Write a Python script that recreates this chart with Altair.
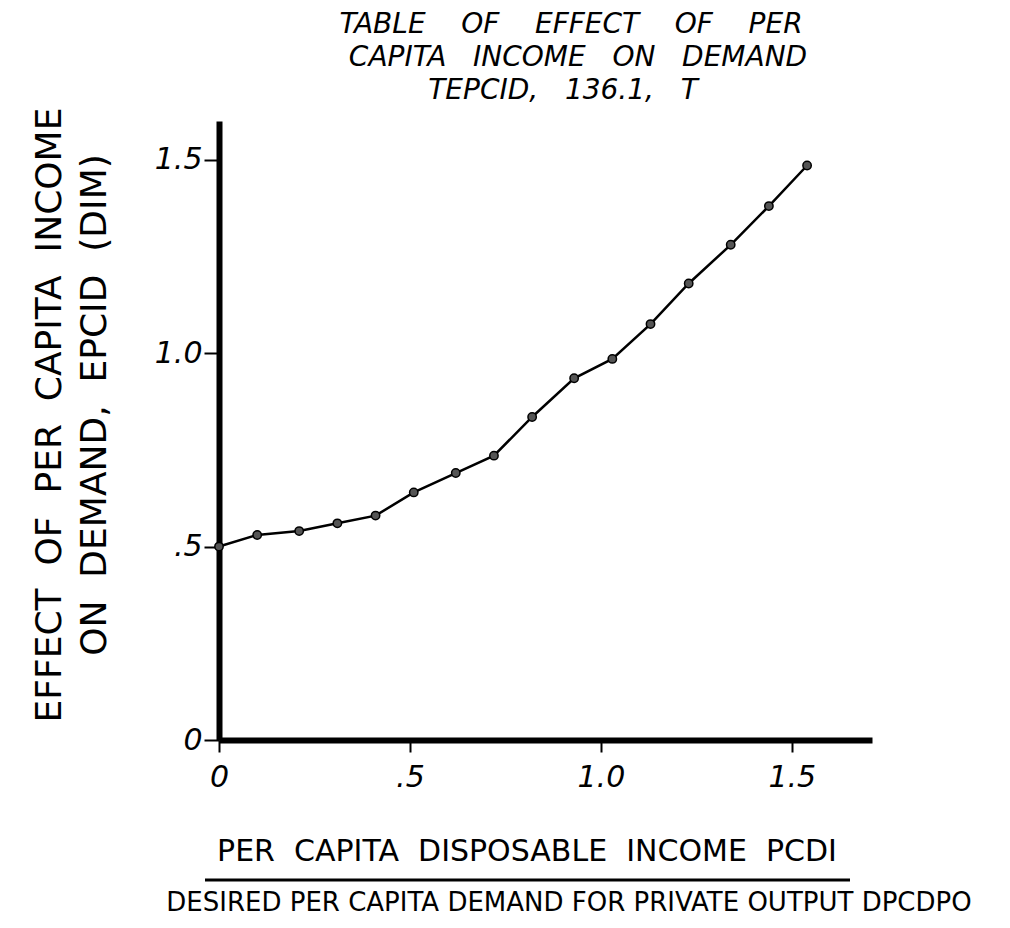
import altair as alt
import pandas as pd

# Values
pcdi = [0.0, 0.10, 0.21, 0.31, 0.41, 0.51, 0.62, 0.72, 0.82, 0.93, 1.03, 1.13, 1.23, 1.34, 1.44, 1.54]
epcid = [0.50, 0.53, 0.54, 0.56, 0.58, 0.64, 0.69, 0.735, 0.835, 0.935, 0.985, 1.075, 1.18, 1.28, 1.38, 1.485]

x_ticks = [0, 0.5, 1.0, 1.5]
y_ticks = [0, 0.5, 1.0, 1.5]

title_lines = ["TABLE OF EFFECT OF PER",
               "CAPITA INCOME ON DEMAND",
               "TEPCID, 136.1, T"]
y_title_lines = ["EFFECT OF PER CAPITA INCOME",
                 "ON DEMAND, EPCID (DIM)"]
x_title = "PER CAPITA DISPOSABLE INCOME PCDI"
sub_title = "DESIRED PER CAPITA DEMAND FOR PRIVATE OUTPUT DPCDPO"

W, H = 653, 619
FONT = "DejaVu Sans"
NB = "\u00a0"
label_expr = "datum.value == 0 ? '0' : datum.value == 0.5 ? '.5' : format(datum.value, '.1f')"


def spaced(s, n):
    # hand lettering uses wide gaps between words
    return s.replace(" ", NB * n)


df = pd.DataFrame({"pcdi": pcdi, "epcid": epcid})

xs = alt.Scale(domain=[0, 1.71], nice=False, zero=True)
ys = alt.Scale(domain=[0, 1.6], nice=False, zero=True)

x_axis = alt.Axis(values=x_ticks, labelExpr=label_expr, title=None, grid=False,
                  domainColor="black", domainWidth=6, tickColor="black", tickWidth=2,
                  tickSize=12, labelFont=FONT, labelFontSize=30, labelFontStyle="italic",
                  labelColor="black", labelPadding=10, labelFlush=False)
y_axis = alt.Axis(values=y_ticks, labelExpr=label_expr, title=None, grid=False,
                  domainColor="black", domainWidth=6, tickColor="black", tickWidth=2,
                  tickSize=15, labelFont=FONT, labelFontSize=30, labelFontStyle="italic",
                  labelColor="black", labelPadding=2, labelFlush=False)

base = alt.Chart(df)
line = base.mark_line(color="black", strokeWidth=2.5).encode(
    x=alt.X("pcdi:Q", scale=xs, axis=x_axis),
    y=alt.Y("epcid:Q", scale=ys, axis=y_axis),
)
pts = base.mark_point(filled=True, fill="#555555", stroke="black", strokeWidth=1.5,
                      size=70, opacity=1, shape="circle").encode(
    x=alt.X("pcdi:Q", scale=xs),
    y=alt.Y("epcid:Q", scale=ys),
)


def txt(s, x, y, size, angle=0, style="normal"):
    return alt.Chart(pd.DataFrame({"t": [s]})).mark_text(
        font=FONT, fontSize=size, color="black", align="center", baseline="middle",
        angle=angle, fontStyle=style
    ).encode(x=alt.value(x), y=alt.value(y), text="t:N")


texts = [
    txt(spaced(title_lines[0], 4), 352, -96, 28, style="italic"),
    txt(spaced(title_lines[1], 3), 359, -63, 28, style="italic"),
    txt(spaced(title_lines[2], 3), 344, -30, 28, style="italic"),
    txt(spaced(y_title_lines[0], 2), -169, 294, 36, angle=270),
    txt(spaced(y_title_lines[1], 2), -124, 284, 36, angle=270),
    txt(spaced(x_title, 2), 308, 731, 30),
    txt(sub_title, 350, 782, 26),
]

underline = alt.Chart(pd.DataFrame({"a": [0]})).mark_rule(
    color="black", strokeWidth=3).encode(
    x=alt.value(-14), x2=alt.value(631), y=alt.value(759))

chart = alt.layer(line, pts, underline, *texts).properties(
    width=W, height=H,
    padding={"left": 211, "top": 113, "right": 120, "bottom": 178},
    autosize=alt.AutoSizeParams(type="none"),
    background="white",
).configure_view(stroke=None)

chart.save("out.html", embed_options={"renderer": "svg", "actions": False})
